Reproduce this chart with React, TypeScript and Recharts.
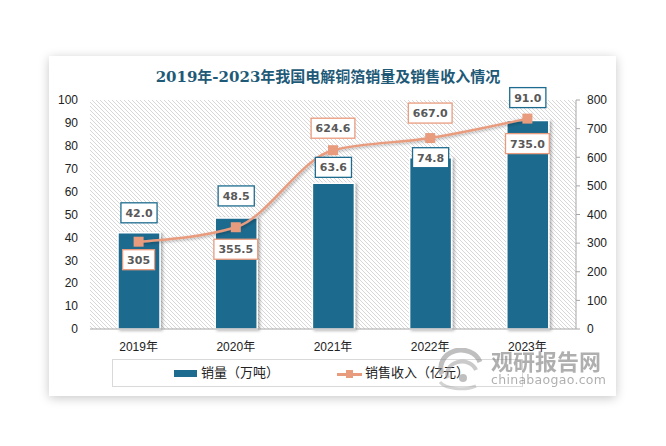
import React from "react";
import {
  ComposedChart,
  Bar,
  Line,
  XAxis,
  YAxis,
  CartesianGrid,
  Legend,
  LabelList,
} from "recharts";

const years = ["2019年", "2020年", "2021年", "2022年", "2023年"];
const salesVolume = [42.0, 48.5, 63.6, 74.8, 91.0];
const salesRevenue = [305, 355.5, 624.6, 667.0, 735.0];
const revenueText = ["305", "355.5", "624.6", "667.0", "735.0"];
const leftTicks = [0, 10, 20, 30, 40, 50, 60, 70, 80, 90, 100];
const rightTicks = [0, 100, 200, 300, 400, 500, 600, 700, 800];

// hand-placed label offsets, like the excel original
const barLabelGap = [10, 12, 6, -10, 13];
const lineLabelGap = [8, 12, -12, -15, 15];

const BLUE = "#1D6B8E";
const ORANGE = "#E99B7E";
const TICK_FONT = "'Liberation Sans', 'Noto Sans CJK SC', sans-serif";
const LABEL_FONT = "'DejaVu Sans', 'Noto Sans CJK SC', sans-serif";

const data = years.map((y, i) => ({
  year: y,
  volume: salesVolume[i],
  revenue: salesRevenue[i],
}));

function textWidth(s: string) {
  let w = 0;
  for (const c of s) w += c === "." ? 4.2 : 7.65;
  return w;
}

function BoxLabel({ cx, top, text, stroke }: { cx: number; top: number; text: string; stroke: string }) {
  const w = textWidth(text) + 9;
  const h = 20;
  return (
    <g>
      <rect x={cx - w / 2} y={top} width={w} height={h} fill="#fff" stroke={stroke} strokeWidth={1.3} />
      <text
        x={cx}
        y={top + h / 2}
        dy="0.36em"
        textAnchor="middle"
        fontFamily={LABEL_FONT}
        fontSize={11}
        fontWeight="bold"
        fill="#595959"
      >
        {text}
      </text>
    </g>
  );
}

const barLabel = (props: any) => {
  const { x, y, width, index, value } = props;
  const gap = barLabelGap[index];
  const top = y - gap - 20;
  return <BoxLabel cx={x + width / 2} top={top} text={Number(value).toFixed(1)} stroke={BLUE} />;
};

const lineLabel = (props: any) => {
  const { x, y, index } = props;
  const gap = lineLabelGap[index];
  const top = gap >= 0 ? y + gap : y + gap - 20;
  return <BoxLabel cx={x} top={top} text={revenueText[index]} stroke={ORANGE} />;
};

const SquareDot = (props: any) => {
  const { cx, cy } = props;
  return <rect x={cx - 5} y={cy - 5} width={10} height={10} fill={ORANGE} />;
};

const renderLegend = () => (
  <div
    style={{
      width: 409,
      height: 26,
      border: "1px solid #D9D9D9",
      position: "relative",
      fontFamily: "'Noto Sans CJK SC', sans-serif",
      fontSize: 13,
      color: "#222",
    }}
  >
    <div style={{ position: "absolute", left: 61, top: 10, width: 23, height: 7, background: BLUE }} />
    <div style={{ position: "absolute", left: 88, top: 3, lineHeight: "18px" }}>销量（万吨）</div>
    <div style={{ position: "absolute", left: 224, top: 13, width: 25, height: 2.5, background: ORANGE }} />
    <div style={{ position: "absolute", left: 233, top: 10, width: 7, height: 8, background: ORANGE }} />
    <div style={{ position: "absolute", left: 252, top: 3, lineHeight: "18px" }}>销售收入（亿元）</div>
  </div>
);

export default function App() {
  return (
    <div style={{ position: "absolute", left: 0, top: 0, width: 666, height: 446, background: "#fff" }}>
      <div
        style={{
          position: "absolute",
          left: 49,
          top: 56,
          width: 567,
          height: 340,
          background: "#fff",
          boxShadow: "0 2px 10px rgba(0,0,0,0.22)",
        }}
      />
      <div
        style={{
          position: "absolute",
          left: 0,
          top: 66,
          width: 656,
          textAlign: "center",
          fontFamily: "'DejaVu Serif', 'Noto Sans CJK SC', serif",
          fontWeight: "bold",
          fontSize: 15,
          lineHeight: "22px",
          color: "#1E5A77",
        }}
      >
        2019年-2023年我国电解铜箔销量及销售收入情况
      </div>
      <div style={{ position: "absolute", left: 0, top: 0 }}>
        <ComposedChart
          width={666}
          height={446}
          data={data}
          margin={{ top: 100, right: 40, bottom: 87, left: 50 }}
          barCategoryGap="28%"
        >
          <defs>
            <pattern id="hatch" patternUnits="userSpaceOnUse" width="4" height="4">
              <path d="M-1,-1 L5,5 M-1,3 L1,5 M3,-1 L5,1" stroke="#D4D4D4" strokeWidth="0.9" />
            </pattern>
            <filter id="shade" x="-20%" y="-20%" width="140%" height="140%">
              <feDropShadow dx="2" dy="1" stdDeviation="1.5" floodColor="#000" floodOpacity="0.3" />
            </filter>
          </defs>
          <CartesianGrid horizontal={false} vertical={false} fill="url(#hatch)" stroke="none" />
          <XAxis
            dataKey="year"
            axisLine={{ stroke: "#A6A6A6" }}
            tickLine={false}
            tickSize={0}
            tickMargin={13}
            height={30}
            tick={{ fontFamily: TICK_FONT, fontSize: 12, fill: "#222" }}
          />
          <YAxis
            yAxisId="left"
            domain={[0, 100]}
            ticks={leftTicks}
            axisLine={false}
            tickLine={false}
            tickSize={0}
            tickMargin={12}
            width={40}
            interval={0}
            tick={{ fontFamily: TICK_FONT, fontSize: 12, fill: "#222" }}
          />
          <YAxis
            yAxisId="right"
            orientation="right"
            domain={[0, 800]}
            ticks={rightTicks}
            axisLine={{ stroke: "#A6A6A6" }}
            tickLine={{ stroke: "#A6A6A6" }}
            tickSize={4}
            tickMargin={7}
            width={50}
            interval={0}
            tick={{ fontFamily: TICK_FONT, fontSize: 12, fill: "#222" }}
          />
          <Legend
            content={renderLegend}
            layout="horizontal"
            verticalAlign="middle"
            align="center"
            wrapperStyle={{ position: "absolute", left: 112, top: 359, width: 411, height: 28 }}
          />
          <Bar
            yAxisId="left"
            dataKey="volume"
            name="销量（万吨）"
            fill={BLUE}
            stroke="#fff"
            strokeWidth={1.5}
            barSize={42}
            filter="url(#shade)"
            isAnimationActive={false}
          >
            <LabelList dataKey="volume" content={barLabel} />
          </Bar>
          <Line
            yAxisId="right"
            dataKey="revenue"
            name="销售收入（亿元）"
            type="monotone"
            stroke={ORANGE}
            strokeWidth={2.5}
            dot={<SquareDot />}
            activeDot={false}
            filter="url(#shade)"
            isAnimationActive={false}
          >
            <LabelList dataKey="revenue" content={lineLabel} />
          </Line>
        </ComposedChart>
      </div>
      <div style={{ position: "absolute", left: 436, top: 346, opacity: 0.55, pointerEvents: "none" }}>
        <svg width={56} height={44} style={{ position: "absolute", left: 0, top: 2 }}>
          <path d="M6,26 A18,16 0 0 1 44,14" fill="none" stroke="#8c8c8c" strokeWidth={5} />
          <path d="M12,30 A13,11 0 0 1 40,22" fill="none" stroke="#a0a0a0" strokeWidth={4} />
          <path d="M4,34 A22,10 0 0 0 40,38" fill="none" stroke="#b0b0b0" strokeWidth={3} />
          <circle cx={27} cy={30} r={4} fill="#8c8c8c" />
        </svg>
        <div
          style={{
            position: "absolute",
            left: 55,
            top: 0,
            whiteSpace: "nowrap",
            fontFamily: "'Noto Sans CJK SC', sans-serif",
            fontWeight: "bold",
            fontSize: 22,
            lineHeight: "28px",
            color: "#6e6e6e",
          }}
        >
          观研报告网
        </div>
        <div
          style={{
            position: "absolute",
            left: 55,
            top: 27,
            whiteSpace: "nowrap",
            fontFamily: "'DejaVu Sans', sans-serif",
            fontSize: 12.5,
            lineHeight: "14px",
            color: "#6e6e6e",
            letterSpacing: 0.3,
          }}
        >
          chinabaogao.com
        </div>
      </div>
    </div>
  );
}
